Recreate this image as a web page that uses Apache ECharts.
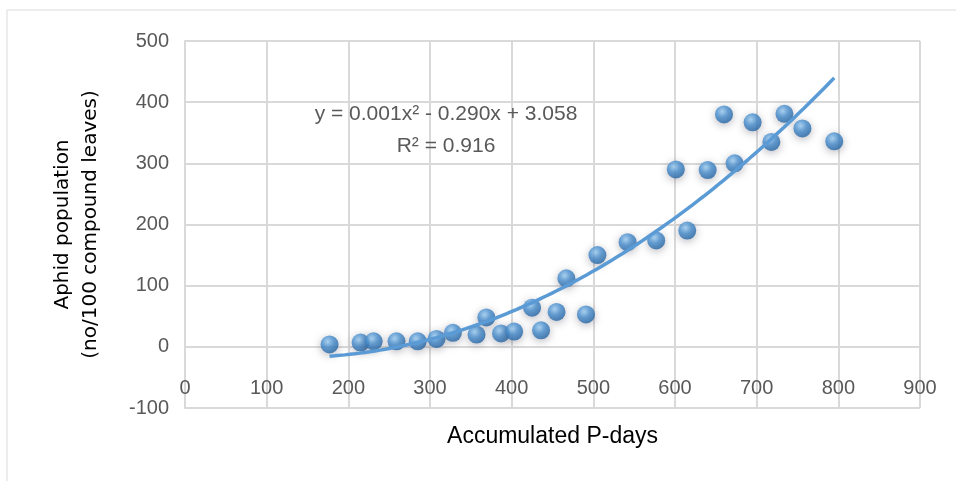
<!DOCTYPE html>
<html><head><meta charset="utf-8">
<script src="https://cdn.jsdelivr.net/npm/echarts@6/dist/echarts.min.js"></script>
<style>html,body{margin:0;padding:0;background:#fff}#c{width:956px;height:481px}</style>
</head><body><div id="c"></div>
<script>
// Data
const pDays  = [177,215,231,259,285,308,328,357,369,387,403,425,436,455,467,491,505,542,577,601,615,640,660,673,695,718,734,756,795];
const aphids = [4,7,9,9,9,13,23,20,48,22,25,64,27,57,112,53,150,171,174,290,190,289,380,300,367,335,381,357,336];
const xTicks = [0,900,100];   // min, max, interval
const yTicks = [-100,500,100];
const eqText = ['y = 0.001x² - 0.290x + 3.058', 'R² = 0.916'];

// quadratic least-squares trendline
function polyfit2(xs, ys){
  let n=xs.length,S=[0,0,0,0,0],T=[0,0,0];
  for(let i=0;i<n;i++){let p=1;for(let k=0;k<5;k++){S[k]+=p;if(k<3)T[k]+=p*ys[i];p*=xs[i];}}
  const A=[[S[0],S[1],S[2],T[0]],[S[1],S[2],S[3],T[1]],[S[2],S[3],S[4],T[2]]];
  for(let i=0;i<3;i++){for(let j=i+1;j<3;j++){const f=A[j][i]/A[i][i];for(let k=i;k<4;k++)A[j][k]-=f*A[i][k];}}
  const c=[0,0,0];
  for(let i=2;i>=0;i--){let s=A[i][3];for(let k=i+1;k<3;k++)s-=A[i][k]*c[k];c[i]=s/A[i][i];}
  return c;
}
const coef = polyfit2(pDays, aphids);
const xMin = Math.min(...pDays), xMax = Math.max(...pDays);
const trend = [];
for(let i=0;i<=100;i++){const x=xMin+(xMax-xMin)*i/100;trend.push([x,coef[0]+coef[1]*x+coef[2]*x*x]);}

const chart = echarts.init(document.getElementById('c'));
const tickFont = "'Liberation Sans Narrow','Liberation Sans',sans-serif";
chart.setOption({
  animation:false,
  backgroundColor:'#fff',
  grid:{left:185,right:36,top:41,bottom:73,containLabel:false,outerBoundsMode:'none'},
  xAxis:{type:'value',min:xTicks[0],max:xTicks[1],interval:xTicks[2],
    name:'Accumulated P-days',nameLocation:'middle',nameGap:17,
    nameTextStyle:{color:'#000',fontSize:23,fontFamily:tickFont},
    axisLine:{show:false,onZero:false},
    axisTick:{show:false},
    axisLabel:{color:'#595959',fontSize:20,margin:-30,fontFamily:tickFont},
    splitLine:{show:true,lineStyle:{color:'#d9d9d9',width:2}}},
  yAxis:{type:'value',min:yTicks[0],max:yTicks[1],interval:yTicks[2],
    name:'Aphid population\n(no/100 compound leaves)',nameLocation:'middle',nameGap:80,nameRotate:90,
    nameTextStyle:{color:'#000',fontSize:20,lineHeight:28,fontFamily:'DejaVu Sans'},
    axisLine:{show:true,onZero:false,lineStyle:{color:'#d9d9d9',width:2}},
    axisTick:{show:false},
    axisLabel:{color:'#595959',fontSize:20,margin:16,fontFamily:tickFont},
    splitLine:{show:true,lineStyle:{color:'#d9d9d9',width:2}}},
  graphic:[
    {type:'rect',shape:{x:7,y:10,width:1000,height:1000},style:{fill:'none',stroke:'#d9d9d9',lineWidth:1},silent:true},
    {type:'text',style:{text:eqText[0]+'\n'+eqText[1],x:446,y:98,textAlign:'center',fill:'#595959',fontSize:21,lineHeight:32,fontFamily:tickFont},z:10}
  ],
  series:[
    {type:'scatter',data:pDays.map((x,i)=>[x,aphids[i]]),symbol:'circle',symbolSize:18,z:2,
      itemStyle:{color:new echarts.graphic.RadialGradient(0.4,0.35,0.7,[{offset:0,color:'#9fd0f5'},{offset:0.45,color:'#4a90d0'},{offset:1,color:'#1f5f9e'}]),
        shadowBlur:8,shadowColor:'rgba(60,60,80,0.45)',shadowOffsetY:2}},
    {type:'line',data:trend,showSymbol:false,smooth:false,z:5,lineStyle:{color:'#5b9bd5',width:3.5}}
  ]
});
</script></body></html>
